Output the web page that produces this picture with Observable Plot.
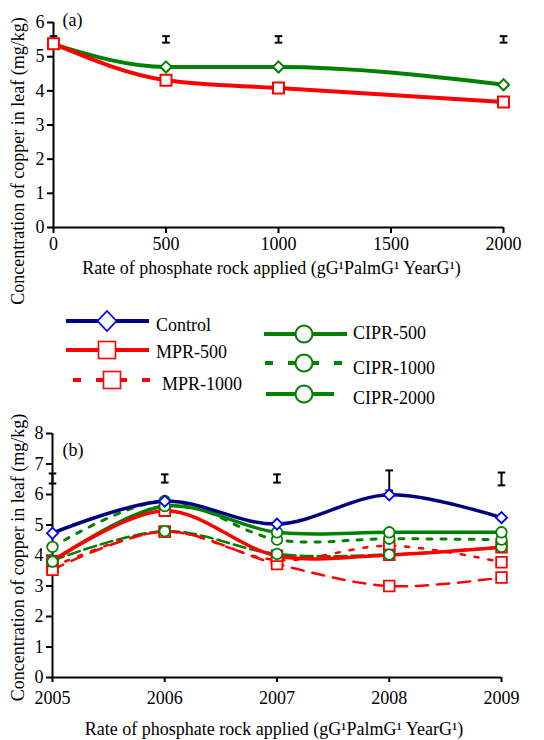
<!DOCTYPE html>
<html><head><meta charset="utf-8">
<script src="https://cdn.jsdelivr.net/npm/d3@7"></script>
<script src="https://cdn.jsdelivr.net/npm/@observablehq/plot@0.6"></script>
<style>
body{margin:0;background:#fff;}
#wrap{position:relative;width:544px;height:740px;overflow:hidden;font-family:'Liberation Serif','DejaVu Serif',serif;}
#wrap > svg{position:absolute;left:0;}
#wrap text{font-family:'Liberation Serif','DejaVu Serif',serif;}
</style></head><body><div id="wrap"></div>
<script>
// ---------- DATA ----------
// Panel (a)
const rates = [0, 500, 1000, 2000];
const rateTicks = [0, 500, 1000, 1500, 2000];
const aCIPR = [5.36, 4.70, 4.70, 4.18];
const aMPR = [5.38, 4.31, 4.08, 3.67];
const aErrLow = [5.41, 5.41, 5.41, 5.41];
const aErrHigh = [5.60, 5.60, 5.60, 5.60];
const yTicksA = [0, 1, 2, 3, 4, 5, 6];

// Panel (b)
const years = [2005, 2006, 2007, 2008, 2009];
const control = [4.73, 5.78, 5.03, 5.99, 5.24];
const mpr500 = [3.82, 5.47, 3.99, 4.02, 4.27];
const mpr1000 = [3.53, 4.78, 3.72, 3.00, 3.28];
const mpr2000 = [3.62, 4.78, 3.85, 4.32, 3.78];
const cipr500 = [3.80, 5.62, 4.76, 4.76, 4.76];
const cipr1000 = [4.28, 5.79, 4.52, 4.55, 4.52];
const cipr2000 = [3.83, 4.80, 4.05, 4.03, 4.28];
const bErrLow = [6.36, 6.39, 6.39, 6.13, 6.30];
const bErrHigh = [6.69, 6.66, 6.66, 6.79, 6.72];
const yTicksB = [0, 1, 2, 3, 4, 5, 6, 7, 8];

const legendNames = ["Control", "MPR-500", "MPR-1000", "CIPR-500", "CIPR-1000", "CIPR-2000"];
const yLabel = "Concentration of copper in leaf (mg/kg)";
const xLabel = "Rate of phosphate rock applied (gG\u00B9PalmG\u00B9 YearG\u00B9)";

// ---------- STYLES ----------
const FONT = "'Liberation Serif','DejaVu Serif',serif";
const NAVY = "#000080", BLUE = "#0000ff", RED = "#ff0000", GREEN = "#008000";
const capSymbol = {draw(ctx, size) { const h = Math.sqrt(size / Math.PI); ctx.moveTo(-h, 0); ctx.lineTo(h, 0); }};

const styleB = {
  "Control":   {stroke: NAVY, width: 3.5, dash: null, marker: "diamond2", mstroke: BLUE, r: 5},
  "MPR-500":   {stroke: RED, width: 3.5, dash: null, marker: "square", mstroke: RED, r: 6},
  "MPR-1000":  {stroke: RED, width: 2.5, dash: "12,9", marker: "square", mstroke: RED, r: 6},
  "MPR-2000":  {stroke: RED, width: 2.5, dash: "4,10", marker: "square", mstroke: RED, r: 6},
  "CIPR-500":  {stroke: GREEN, width: 3.5, dash: null, marker: "circle", mstroke: GREEN, r: 5.3},
  "CIPR-1000": {stroke: GREEN, width: 3, dash: "5,9", marker: "circle", mstroke: GREEN, r: 5.3},
  "CIPR-2000": {stroke: GREEN, width: 2.5, dash: "12,5", marker: "circle", mstroke: GREEN, r: 5.3}
};
const seriesB = [
  ["CIPR-1000", cipr1000], ["CIPR-2000", cipr2000], ["MPR-2000", mpr2000], ["MPR-1000", mpr1000],
  ["CIPR-500", cipr500], ["MPR-500", mpr500], ["Control", control]
];

// ---------- BUILD TABLES ----------
const tableA = [
  ...rates.map((x, i) => ({x, y: aCIPR[i], s: "CIPR"})),
  ...rates.map((x, i) => ({x, y: aMPR[i], s: "MPR"}))
];
const errA = rates.map((x, i) => ({x, lo: aErrLow[i], hi: aErrHigh[i]}));
const errB = years.map((x, i) => ({x, lo: bErrLow[i], hi: bErrHigh[i]}));
const rowsB = seriesB.map(([name, vals]) => ({name, rows: years.map((x, i) => ({x, y: vals[i]}))}));

const wrap = document.getElementById("wrap");
const baseStyle = {fontFamily: FONT, fontSize: "18px", color: "#000", background: "transparent", overflow: "visible"};

function errMarks(err) {
  return [
    Plot.ruleX(err, {x: "x", y1: "lo", y2: "hi", stroke: "#000", strokeWidth: 2}),
    Plot.dot(err, {x: "x", y: "lo", symbol: capSymbol, r: 3.8, stroke: "#000", strokeWidth: 2}),
    Plot.dot(err, {x: "x", y: "hi", symbol: capSymbol, r: 3.8, stroke: "#000", strokeWidth: 2})
  ];
}

// ---------- PANEL (a) ----------
const plotA = Plot.plot({
  width: 544, height: 285,
  marginLeft: 53, marginRight: 41, marginTop: 22, marginBottom: 58,
  style: baseStyle,
  x: {domain: [0, 2000]},
  y: {domain: [0, 6]},
  marks: [
    Plot.axisX({ticks: rateTicks, tickFormat: d => String(d), tickSize: 6, tickPadding: 4, strokeWidth: 2, label: null}),
    Plot.axisY({ticks: yTicksA, tickFormat: d => String(d), tickSize: 6, tickPadding: 3, strokeWidth: 2, label: null}),
    ...errMarks(errA),
    Plot.line(tableA.filter(d => d.s === "CIPR"), {x: "x", y: "y", stroke: GREEN, strokeWidth: 4, curve: "monotone-x"}),
    Plot.line(tableA.filter(d => d.s === "MPR"), {x: "x", y: "y", stroke: RED, strokeWidth: 4, curve: "monotone-x"}),
    Plot.ruleY([0], {strokeWidth: 2}),
    Plot.ruleX([0], {strokeWidth: 2}),
    Plot.dot(tableA.filter(d => d.s === "CIPR"), {x: "x", y: "y", symbol: "diamond2", r: 5, stroke: GREEN, fill: "#fff", strokeWidth: 2}),
    Plot.dot(tableA.filter(d => d.s === "MPR"), {x: "x", y: "y", symbol: "square", r: 6.2, stroke: RED, fill: "#fff", strokeWidth: 2}),
    Plot.text(["(a)"], {frameAnchor: "top-left", dx: 9, dy: -2, textAnchor: "start", lineAnchor: "middle", fontSize: 18}),
    Plot.text([yLabel], {frameAnchor: "left", rotate: -90, dx: -35, dy: 36, textAnchor: "middle", lineAnchor: "middle", fontSize: 18}),
    Plot.text([xLabel], {frameAnchor: "bottom", dx: -7, dy: 41, textAnchor: "middle", lineAnchor: "middle", fontSize: 18})
  ]
});
plotA.style.top = "0px";
wrap.appendChild(plotA);

// ---------- LEGEND ----------
const legendLayout = [
  {x1: 66, x2: 149, y: 321, mx: 107, tx: 156, ty: 331},
  {x1: 66, x2: 149, y: 350, mx: 107, tx: 156, ty: 358},
  {x1: 73, x2: 150, y: 380, mx: 112, tx: 162, ty: 390},
  {x1: 264, x2: 347, y: 334, mx: 304, tx: 353, ty: 339},
  {x1: 265, x2: 342, y: 363, mx: 304, tx: 353, ty: 374},
  {x1: 266, x2: 334, y: 394, mx: 304, tx: 353, ty: 404}
];
const legendStyle = {
  "Control":   {stroke: NAVY, width: 4, dash: null, marker: "diamond", mstroke: BLUE},
  "MPR-500":   {stroke: RED, width: 4, dash: null, marker: "square", mstroke: RED},
  "MPR-1000":  {stroke: RED, width: 4, dash: "8,15", marker: "square", mstroke: RED},
  "CIPR-500":  {stroke: GREEN, width: 4, dash: null, marker: "circle", mstroke: GREEN},
  "CIPR-1000": {stroke: GREEN, width: 4, dash: "8,15", marker: "circle", mstroke: GREEN},
  "CIPR-2000": {stroke: GREEN, width: 4, dash: null, marker: "circle", mstroke: GREEN}
};
const OFFY = 300;
const leg = d3.create("svg").attr("width", 544).attr("height", 120).style("top", OFFY + "px").style("overflow", "visible");
legendNames.forEach((name, i) => {
  const L = legendLayout[i], S = legendStyle[name];
  const g = leg.append("g").attr("transform", `translate(0,${-OFFY})`);
  g.append("line").attr("x1", L.x1).attr("x2", L.x2).attr("y1", L.y).attr("y2", L.y)
    .attr("stroke", S.stroke).attr("stroke-width", S.width).attr("stroke-dasharray", S.dash);
  if (S.marker === "square") {
    g.append("rect").attr("x", L.mx - 8.5).attr("y", L.y - 8.5).attr("width", 17).attr("height", 17)
      .attr("fill", "#fff").attr("stroke", S.mstroke).attr("stroke-width", 1.6);
  } else if (S.marker === "diamond") {
    g.append("path").attr("d", `M${L.mx},${L.y - 10}L${L.mx + 9.5},${L.y}L${L.mx},${L.y + 10}L${L.mx - 9.5},${L.y}Z`)
      .attr("fill", "#fff").attr("stroke", S.mstroke).attr("stroke-width", 1.8);
  } else {
    g.append("circle").attr("cx", L.mx).attr("cy", L.y).attr("r", 8.5)
      .attr("fill", "#fff").attr("stroke", S.mstroke).attr("stroke-width", 2);
  }
  g.append("text").attr("x", L.tx).attr("y", L.ty).style("font-family", FONT).attr("font-size", 18).attr("fill", "#000").text(name);
});
wrap.appendChild(leg.node());

// ---------- PANEL (b) ----------
const lineMarks = rowsB.map(({name, rows}) => {
  const S = styleB[name];
  return Plot.line(rows, {x: "x", y: "y", stroke: S.stroke, strokeWidth: S.width, strokeDasharray: S.dash, curve: "catmull-rom"});
});
const order = ["MPR-2000", "MPR-1000", "MPR-500", "CIPR-2000", "CIPR-1000", "CIPR-500", "Control"];
const dotMarks = order.map(name => {
  const S = styleB[name], rows = rowsB.find(r => r.name === name).rows;
  return Plot.dot(rows, {x: "x", y: "y", symbol: S.marker, r: S.r, stroke: S.mstroke, fill: "#fff", strokeWidth: 1.8});
});
const plotB = Plot.plot({
  width: 544, height: 320,
  marginLeft: 52, marginRight: 43, marginTop: 13, marginBottom: 63,
  style: baseStyle,
  x: {domain: [2005, 2009]},
  y: {domain: [0, 8]},
  marks: [
    Plot.axisX({ticks: years, tickFormat: d => String(d), tickSize: 5, tickPadding: 9, strokeWidth: 2, label: null}),
    Plot.axisY({ticks: yTicksB, tickFormat: d => String(d), tickSize: 6, tickPadding: 3, strokeWidth: 2, label: null}),
    ...errMarks(errB),
    ...lineMarks,
    Plot.ruleY([0], {strokeWidth: 2}),
    Plot.ruleX([2005], {strokeWidth: 2}),
    ...dotMarks,
    Plot.text(["(b)"], {frameAnchor: "top-left", dx: 10, dy: 17, textAnchor: "start", lineAnchor: "middle", fontSize: 18}),
    Plot.text([yLabel], {frameAnchor: "left", rotate: -90, dx: -34, dy: 2, textAnchor: "middle", lineAnchor: "middle", fontSize: 18}),
    Plot.text([xLabel], {frameAnchor: "bottom", dx: -3, dy: 52, textAnchor: "middle", lineAnchor: "middle", fontSize: 18})
  ]
});
plotB.style.top = "420px";
wrap.appendChild(plotB);
</script></body></html>
